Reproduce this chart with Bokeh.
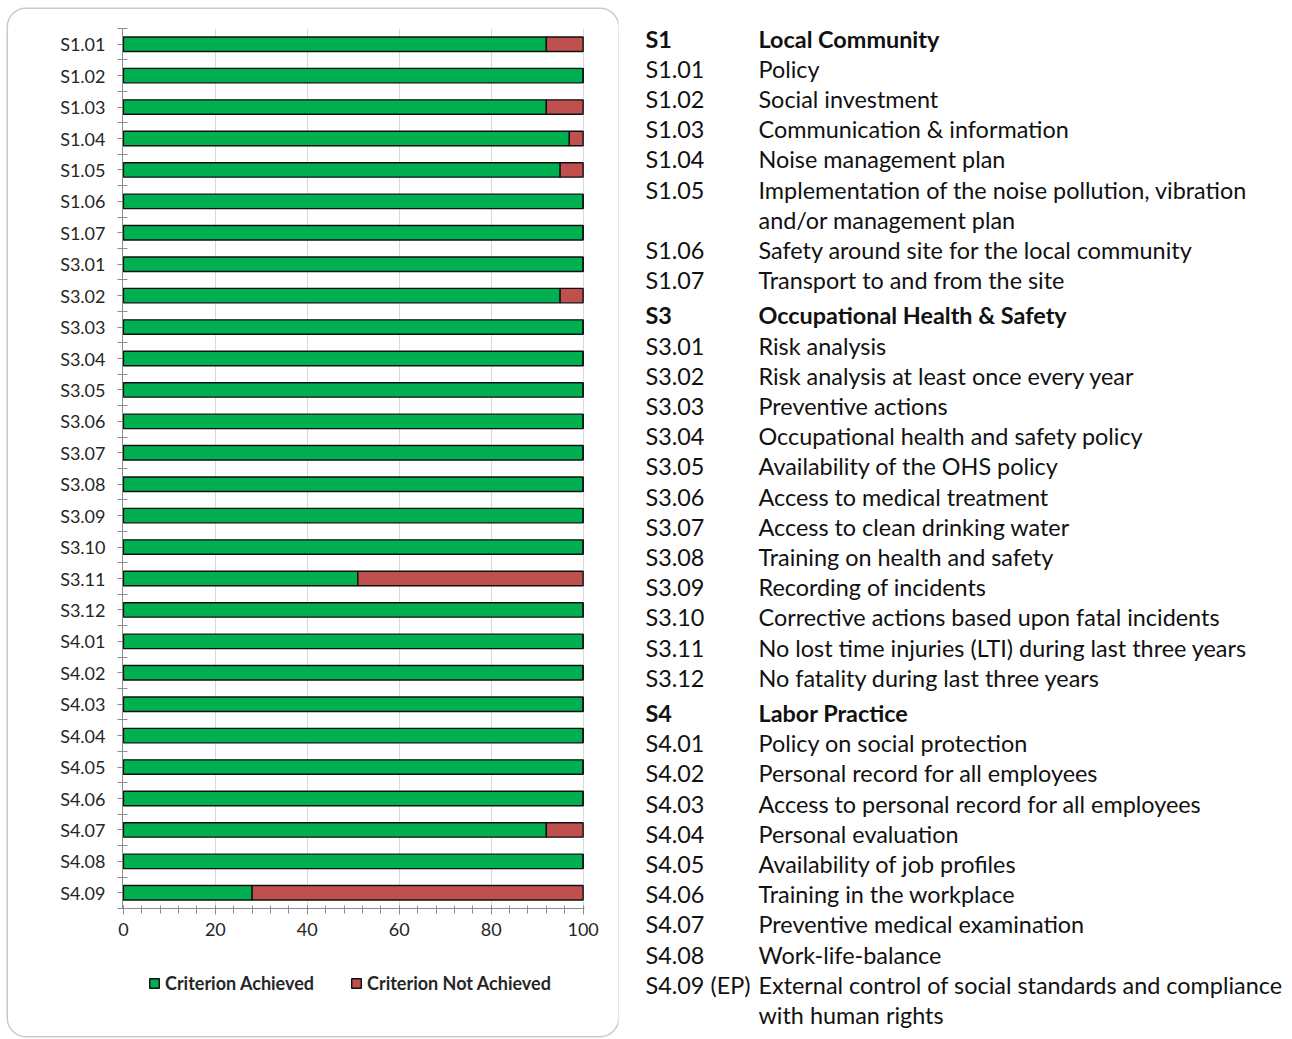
from bokeh.plotting import figure
from bokeh.layouts import row, column
from bokeh.models import (Range1d, FixedTicker, Legend, LegendItem,
                          ColumnDataSource)
from bokeh.core.properties import value
from bokeh.embed import file_html
from bokeh.resources import INLINE

# ---- chart data (percent of sites) ----
criteria = ["S1.01", "S1.02", "S1.03", "S1.04", "S1.05", "S1.06", "S1.07",
            "S3.01", "S3.02", "S3.03", "S3.04", "S3.05", "S3.06", "S3.07",
            "S3.08", "S3.09", "S3.10", "S3.11", "S3.12",
            "S4.01", "S4.02", "S4.03", "S4.04", "S4.05", "S4.06", "S4.07",
            "S4.08", "S4.09"]
achieved = [92, 100, 92, 97, 95, 100, 100,
            100, 95, 100, 100, 100, 100, 100,
            100, 100, 100, 51, 100,
            100, 100, 100, 100, 100, 100, 92,
            100, 28]
not_achieved = [8, 0, 8, 3, 5, 0, 0,
                0, 5, 0, 0, 0, 0, 0,
                0, 0, 0, 49, 0,
                0, 0, 0, 0, 0, 0, 8,
                0, 72]
x_ticks = [0, 20, 40, 60, 80, 100]
series_labels = ["Criterion Achieved", "Criterion Not Achieved"]

# ---- criteria key ----
s1_code, s1_title = "S1", "Local Community"
s1_codes = ["S1.01", "S1.02", "S1.03", "S1.04", "S1.05", "S1.06", "S1.07"]
s1_items = ["Policy",
            "Social investment",
            "Communication & information",
            "Noise management plan",
            "Implementation of the noise pollution, vibration\nand/or management plan",
            "Safety around site for the local community",
            "Transport to and from the site"]
s3_code, s3_title = "S3", "Occupational Health & Safety"
s3_codes = ["S3.01", "S3.02", "S3.03", "S3.04", "S3.05", "S3.06", "S3.07",
            "S3.08", "S3.09", "S3.10", "S3.11", "S3.12"]
s3_items = ["Risk analysis",
            "Risk analysis at least once every year",
            "Preventive actions",
            "Occupational health and safety policy",
            "Availability of the OHS policy",
            "Access to medical treatment",
            "Access to clean drinking water",
            "Training on health and safety",
            "Recording of incidents",
            "Corrective actions based upon fatal incidents",
            "No lost time injuries (LTI) during last three years",
            "No fatality during last three years"]
s4_code, s4_title = "S4", "Labor Practice"
s4_codes = ["S4.01", "S4.02", "S4.03", "S4.04", "S4.05", "S4.06", "S4.07",
            "S4.08", "S4.09 (EP)"]
s4_items = ["Policy on social protection",
            "Personal record for all employees",
            "Access to personal record for all employees",
            "Personal evaluation",
            "Availability of job profiles",
            "Training in the workplace",
            "Preventive medical examination",
            "Work-life-balance",
            "External control of social standards and compliance\nwith human rights"]

FONT = "Lato"
GREEN = "#00B050"
RED = "#C0504D"
OUTLINE = "#111111"
AXIS_GRAY = "#8c8c8c"
TEXT = "#262626"

# ---------------- stacked bar chart ----------------
n = len(criteria)
pos = list(range(n))
src = ColumnDataSource(dict(y=pos, achieved=achieved, not_achieved=not_achieved))

p = figure(width=610, height=960,
           x_range=Range1d(-0.2, 100.3), y_range=Range1d(n - 0.5, -0.5),
           output_backend="svg", toolbar_location=None,
           min_border_left=114, min_border_right=34,
           min_border_top=19, min_border_bottom=61,
           margin=(0, 0, 0, 0))
p.frame_align = False
p.outline_line_color = None
p.background_fill_color = "white"
p.border_fill_alpha = 0

bars = p.hbar_stack(["achieved", "not_achieved"], y="y", height=0.46,
                    color=[GREEN, RED], line_color=OUTLINE, line_width=1.4,
                    source=src)

# x axis
p.xaxis.ticker = FixedTicker(ticks=x_ticks, minor_ticks=list(range(0, 101, 4)))
p.xaxis.axis_line_color = AXIS_GRAY
p.xaxis.major_tick_line_color = AXIS_GRAY
p.xaxis.minor_tick_line_color = AXIS_GRAY
p.xaxis.major_tick_in = 3
p.xaxis.major_tick_out = 6
p.xaxis.minor_tick_in = 3
p.xaxis.minor_tick_out = 5
p.xaxis.major_label_standoff = 8
p.xaxis.major_label_text_font = FONT
p.xaxis.major_label_text_font_size = "18px"
p.xaxis.major_label_text_color = TEXT

# y axis: labels at bar centres, crossing ticks between categories
p.yaxis.ticker = FixedTicker(ticks=pos, minor_ticks=[i - 0.5 for i in range(n + 1)])
p.yaxis.major_label_overrides = {i: c for i, c in zip(pos, criteria)}
p.yaxis.axis_line_color = AXIS_GRAY
p.yaxis.major_tick_line_color = AXIS_GRAY
p.yaxis.minor_tick_line_color = AXIS_GRAY
p.yaxis.major_tick_in = 0
p.yaxis.major_tick_out = 5
p.yaxis.minor_tick_in = 5
p.yaxis.minor_tick_out = 5
p.yaxis.major_label_standoff = 12
p.yaxis.major_label_text_font = FONT
p.yaxis.major_label_text_font_size = "18px"
p.yaxis.major_label_text_color = TEXT

p.xgrid.ticker = FixedTicker(ticks=x_ticks[1:])
p.xgrid.grid_line_color = "#d9d9d9"
p.ygrid.grid_line_color = None

# ---------------- legend strip under the chart ----------------
lf = figure(width=610, height=67, x_range=Range1d(0, 100),
            y_range=Range1d(n - 0.5, -0.5),
            output_backend="svg", toolbar_location=None,
            x_axis_type=None, y_axis_type=None, min_border=0,
            margin=(0, 0, 0, 0))
lf.frame_align = False
lf.outline_line_color = None
lf.grid.visible = False
lf.background_fill_alpha = 0
lf.border_fill_alpha = 0
# hidden copies of the two series: they only supply the legend swatches
sw = lf.hbar_stack(["achieved", "not_achieved"], y="y", height=0.46,
                   color=[GREEN, RED], line_color=OUTLINE, line_width=1.4,
                   source=src)
for r in sw:
    r.visible = False
legend = Legend(items=[LegendItem(label=series_labels[0], renderers=[sw[0]]),
                       LegendItem(label=series_labels[1], renderers=[sw[1]])],
                orientation="horizontal", location=(140, 42),
                label_text_font=FONT, label_text_font_style="bold",
                label_text_font_size="18px", label_text_color=TEXT,
                glyph_width=12, glyph_height=12, label_standoff=5,
                spacing=36, padding=0, margin=0,
                border_line_color=None, background_fill_alpha=0)
lf.add_layout(legend)

panel = column(p, lf, spacing=0, margin=(9, 0, 0, 8),
               styles={"box-shadow": "0 0 0 1.5px #cacaca",
                       "border-radius": "18px"})

# ---------------- criteria key ----------------
codes, labels, ys, styles = [], [], [], []
y = 38.0
step = 30.2
first = True
for gcode, gtitle, icodes, items in [(s1_code, s1_title, s1_codes, s1_items),
                                     (s3_code, s3_title, s3_codes, s3_items),
                                     (s4_code, s4_title, s4_codes, s4_items)]:
    if not first:
        y += step + 5
    first = False
    codes.append(gcode); labels.append(gtitle); ys.append(y); styles.append("bold")
    for c, item in zip(icodes, items):
        for k, line in enumerate(item.split("\n")):
            y += step
            codes.append(c if k == 0 else ""); labels.append(line)
            ys.append(y); styles.append("normal")

key_src = ColumnDataSource(dict(code=codes, label=labels, y=ys, style=styles))

q = figure(width=672, height=1039, x_range=Range1d(618, 1290),
           y_range=Range1d(1039, 0), output_backend="svg",
           toolbar_location=None, x_axis_type=None, y_axis_type=None,
           min_border=0, margin=(0, 0, 0, 0))
q.frame_align = False
q.outline_line_color = None
q.grid.visible = False
q.text(x=645, y="y", text="code", source=key_src, text_font=value(FONT),
       text_font_size="23.4px", text_font_style="style", text_color="#111111",
       text_baseline="middle", text_align="left")
q.text(x=758, y="y", text="label", source=key_src, text_font=value(FONT),
       text_font_size="23.4px", text_font_style="style", text_color="#111111",
       text_baseline="middle", text_align="left")

layout = row(panel, q, spacing=0)
open("out.html", "w").write(file_html(layout, INLINE))
